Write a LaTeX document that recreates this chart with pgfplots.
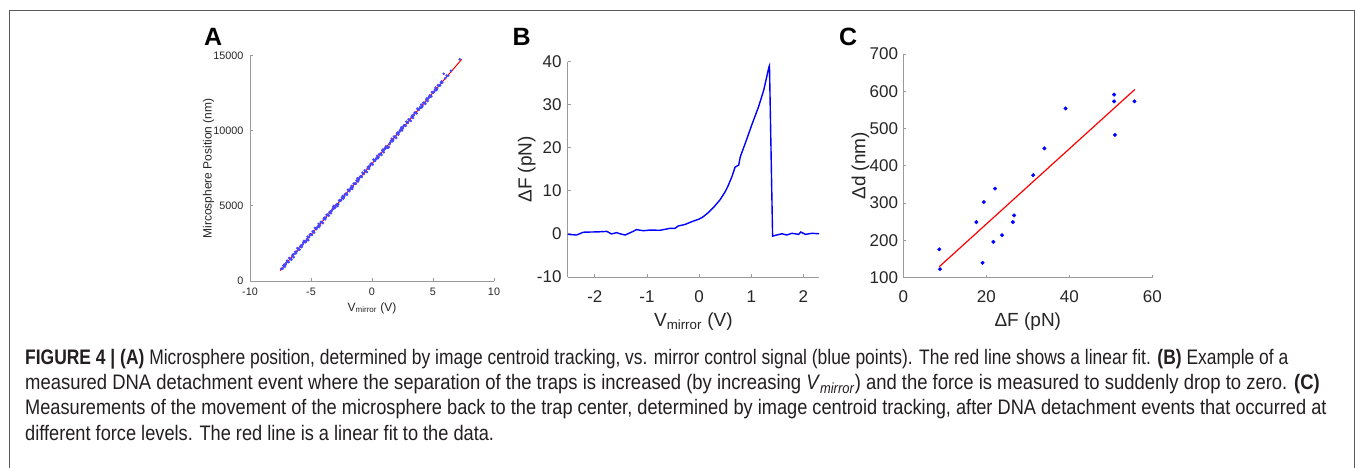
\documentclass[border=0pt]{standalone}
\usepackage{fontspec}
\setmainfont{Liberation Sans}
\newfontfamily\capfont[FakeStretch=0.867]{Liberation Sans}
\usepackage{pgfplots}
\pgfplotsset{compat=1.18}
\definecolor{axgray}{HTML}{9A9A9A}
\definecolor{txt}{HTML}{262626}
\definecolor{capc}{HTML}{231F20}
\definecolor{framec}{HTML}{5A5A5A}
\definecolor{mblue}{RGB}{0,0,255}
\definecolor{lblue}{RGB}{70,70,255}
\definecolor{mred}{RGB}{255,0,0}
\newcommand{\fs}[1]{\fontsize{#1}{#1}\selectfont}
\pgfplotsset{
  mstyle/.style={
    scale only axis,
    axis x line*=bottom, axis y line*=left,
    axis line style={axgray, line width=0.9pt, -},
    every tick/.style={axgray, line width=0.9pt},
    tick align=inside,
    major tick length=3pt,
    scaled x ticks=false, scaled y ticks=false,
    /pgf/number format/assume math mode=true,
    /pgf/number format/1000 sep={},
    ticklabel style={text=txt, inner sep=0pt},
    label style={text=txt, inner sep=0pt},
    yticklabel style={anchor=east},
    xticklabel style={anchor=base},
  }
}
\begin{document}
\begin{tikzpicture}[x=1pt,y=1pt]
\useasboundingbox (0,0) rectangle (1355,467);
\fill[white] (0,0) rectangle (1355,467);
\draw[framec, line width=1pt] (9.5,-5) -- (9.5,456.7) -- (1354.3,456.7) -- (1354.3,-5);

% Panel A
\begin{axis}[mstyle, at={(250pt,186pt)}, anchor=south west,
  width=244pt, height=225.3pt,
  xmin=-10, xmax=10, ymin=0, ymax=15000,
  xtick={-10,-5,0,5,10}, ytick={0,5000,10000,15000},
  ticklabel style={font=\fs{10.8}},
  xticklabel style={yshift=-14pt},
  yticklabel style={xshift=-6.5pt},
  label style={font=\fs{12}},
  xlabel={V\textsubscript{mirror} (V)},
  ylabel={Mircosphere Position (nm)},
  xlabel style={at={([yshift=-30pt]axis description cs:0.5,0)}, anchor=base},
  ylabel style={at={([xshift=-38.5pt]axis description cs:0,0.5)}, anchor=base},
]
\addplot[lblue, only marks, mark=*, mark size=1.1pt, mark options={fill=lblue, draw=none}] coordinates {
(-7.44,819) (-7.32,832) (-7.20,1096) (-7.08,1089) (-6.96,1353) (-6.84,1256) (-6.72,1490) (-6.60,1433)
(-6.48,1757) (-6.36,1810) (-6.24,1843) (-6.12,2187) (-6.00,2110) (-5.88,2303) (-5.76,2257) (-5.64,2560)
(-5.52,2614) (-5.40,2647) (-5.28,2951) (-5.16,2914) (-5.04,3107) (-4.92,3061) (-4.80,3314) (-4.68,3538)
(-4.56,3451) (-4.44,3635) (-4.32,3598) (-4.20,3931) (-4.08,3915) (-3.96,4128) (-3.84,4102) (-3.72,4405)
(-3.60,4389) (-3.48,4572) (-3.36,4515) (-3.24,4779) (-3.12,5002) (-3.00,4916) (-2.88,5109) (-2.76,5113)
(-2.64,5396) (-2.52,5399) (-2.40,5663) (-2.28,5606) (-2.16,5810) (-2.04,5743) (-1.92,6066) (-1.80,6090)
(-1.68,6323) (-1.56,6267) (-1.44,6480) (-1.32,6464) (-1.20,6827) (-1.08,6750) (-0.96,6964) (-0.84,6927)
(-0.72,7151) (-0.60,7354) (-0.48,7298) (-0.36,7511) (-0.24,7464) (-0.12,7778) (0.00,7781) (0.12,8085)
(0.24,7988) (0.36,8182) (0.48,8165) (0.60,8438) (0.72,8472) (0.84,8695) (0.96,8569) (1.08,8872)
(1.20,8866) (1.32,8879) (1.44,9112) (1.56,9336) (1.68,9309) (1.80,9623) (1.92,9596) (2.04,9800)
(2.16,9743) (2.28,9996) (2.40,10220) (2.52,10153) (2.64,10377) (2.76,10330) (2.88,10554) (3.00,10767)
(3.12,10700) (3.24,10914) (3.36,10857) (3.48,11181) (3.60,11194) (3.72,11478) (3.84,11391) (3.96,11584)
(4.08,11558) (4.20,11871) (4.32,11855) (4.44,12068) (4.56,11982) (4.68,12275) (4.80,12278) (4.92,12562)
(5.04,12545) (5.16,12749) (5.28,12712) (5.40,13046) (5.52,13009) (5.64,13192) (5.76,13196) (5.88,13799)
(6.00,13503) (6.24,13670) (6.48,13996) (7.20,14764)
(-7.38,816) (-7.26,1019) (-7.14,953) (-7.02,1226) (-6.90,1280) (-6.78,1533) (-6.66,1446) (-6.54,1660)
(-6.42,1583) (-6.30,1947) (-6.18,1950) (-6.06,2154) (-5.94,2087) (-5.82,2360) (-5.70,2414) (-5.58,2667)
(-5.46,2581) (-5.34,2794) (-5.22,2717) (-5.10,3081) (-4.98,3084) (-4.86,3288) (-4.74,3221) (-4.62,3495)
(-4.50,3548) (-4.38,3801) (-4.26,3715) (-4.14,3928) (-4.02,3852) (-3.90,4215) (-3.78,4218) (-3.66,4422)
(-3.54,4355) (-3.42,4629) (-3.30,4682) (-3.18,4936) (-3.06,4849) (-2.94,5062) (-2.82,4986) (-2.70,5349)
(-2.58,5353) (-2.46,5556) (-2.34,5489) (-2.22,5763) (-2.10,5816) (-1.98,6070) (-1.86,5983) (-1.74,6197)
(-1.62,6120) (-1.50,6483) (-1.38,6487) (-1.26,6690) (-1.14,6624) (-1.02,6897) (-0.90,6950) (-0.78,7204)
(-0.66,7117) (-0.54,7331) (-0.42,7254) (-0.30,7618) (-0.18,7621) (-0.06,7824) (0.06,7758) (0.18,8031)
(0.30,8085) (0.42,8338) (0.54,8251) (0.66,8465) (0.78,8388) (0.90,8752) (1.02,8755) (1.14,8959)
(1.26,8892) (1.38,8915) (1.50,9219) (1.62,9472) (1.74,9386) (1.86,9599) (1.98,9523) (2.10,9886)
(2.22,9889) (2.34,10093) (2.46,10026) (2.58,10300) (2.70,10353) (2.82,10607) (2.94,10520) (3.06,10733)
(3.18,10657) (3.30,11020) (3.42,11024) (3.54,11227) (3.66,11160) (3.78,11434) (3.90,11487) (4.02,11741)
(4.14,11654) (4.26,11868) (4.38,11791) (4.50,12154) (4.62,12158) (4.74,12361) (4.86,12295) (4.98,12568)
(5.10,12621) (5.22,12875) (5.34,12788) (5.46,13002) (5.58,13025) (5.70,13289) (6.12,13673)
};
\addplot[mred, line width=1pt] coordinates {(-7.54,685) (7.35,14756)};
\end{axis}

% Panel B
\begin{axis}[mstyle, at={(567.7pt,190pt)}, anchor=south west,
  width=251.3pt, height=215.3pt,
  xmin=-2.52, xmax=2.3, ymin=-10, ymax=40,
  xtick={-2,-1,0,1,2}, ytick={-10,0,10,20,30,40},
  ticklabel style={font=\fs{17}},
  xticklabel style={yshift=-25pt},
  yticklabel style={xshift=-6pt},
  label style={font=\fs{19}},
  xlabel={V\textsubscript{mirror} (V)},
  ylabel={ΔF (pN)},
  xlabel style={at={([yshift=-49pt]axis description cs:0.5,0)}, anchor=base},
  ylabel style={at={([xshift=-36.2pt]axis description cs:0,0.5)}, anchor=base},
]
\addplot[mblue, line width=1.4pt] coordinates {
(-2.52,-0.1) (-2.35,-0.25) (-2.22,0.4) (-1.90,0.5) (-1.77,0.6) (-1.68,0) (-1.58,0.3) (-1.52,0.05)
(-1.42,-0.25) (-1.29,0.45) (-1.20,1.0) (-1.07,0.75) (-0.94,0.9) (-0.75,0.85) (-0.62,1.15) (-0.56,1.3)
(-0.46,1.3) (-0.40,1.85) (-0.27,2.2) (-0.14,2.85) (-0.08,3.1) (0.00,3.45) (0.08,4.0) (0.18,5.0)
(0.28,6.2) (0.40,7.9) (0.50,9.8) (0.55,11.0) (0.63,13.3) (0.69,15.5) (0.76,16.0) (0.79,17.9)
(0.92,22.2) (1.01,25.3) (1.14,29.5) (1.24,33.4) (1.34,38.8) (1.35,39.1) (1.41,-0.5) (1.49,-0.25)
(1.59,0.05) (1.68,-0.25) (1.78,0.15) (1.91,-0.1) (1.95,0.45) (2.04,-0.1) (2.16,0.15) (2.30,0.05)
};
\end{axis}

% Panel C
\begin{axis}[mstyle, at={(903.3pt,189.3pt)}, anchor=south west,
  width=249pt, height=223.7pt,
  xmin=0, xmax=60, ymin=100, ymax=700,
  xtick={0,20,40,60}, ytick={100,200,...,700},
  ticklabel style={font=\fs{17}},
  xticklabel style={yshift=-24.3pt},
  yticklabel style={xshift=-5pt},
  label style={font=\fs{19}},
  xlabel={ΔF (pN)},
  ylabel={Δd (nm)},
  xlabel style={at={([yshift=-48.3pt]axis description cs:0.5,0)}, anchor=base},
  ylabel style={at={([xshift=-38pt]axis description cs:0,0.5)}, anchor=base},
]
\addplot[mblue, only marks, mark=*, mark size=1.8pt, mark options={fill=mblue, draw=none}] coordinates {
(8.67,176) (8.84,123) (17.6,249) (19.1,140) (19.4,303) (21.7,196) (22.1,339) (23.8,214)
(26.4,249) (26.7,267) (31.3,375) (34.0,447) (39.1,554) (50.8,591) (50.8,573) (51.0,483) (55.7,573)
};
\addplot[mred, line width=1.2pt] coordinates {(8.67,129.5) (55.8,605)};
\end{axis}

% panel letters
\node[anchor=base west, inner sep=0pt, font=\bfseries\fs{25}, text=black] at (204,421) {A};
\node[anchor=base west, inner sep=0pt, font=\bfseries\fs{25}, text=black] at (512.5,421) {B};
\node[anchor=base west, inner sep=0pt, font=\bfseries\fs{25}, text=black] at (839,421) {C};

% caption
\begin{scope}[every node/.style={anchor=base west, inner sep=0pt, font=\capfont\fs{21}, text=capc}]
\node at (25,103) {\scalebox{0.958}[1]{\textbf{FIGURE 4 | (A)} Microsphere position, determined by image centroid tracking, vs. mirror control signal (blue points). The red line shows a linear fit. \textbf{(B)} Example of a}};
\node at (25,77.5) {\scalebox{1.013}[1]{measured DNA detachment event where the separation of the traps is increased (by increasing \textit{V}\textsubscript{\textit{mirror}}) and the force is measured to suddenly drop to zero. \textbf{(C)}}};
\node at (25,52.5) {Measurements of the movement of the microsphere back to the trap center, determined by image centroid tracking, after DNA detachment events that occurred at};
\node at (25,27) {different force levels. The red line is a linear fit to the data.};
\end{scope}
\end{tikzpicture}
\end{document}
